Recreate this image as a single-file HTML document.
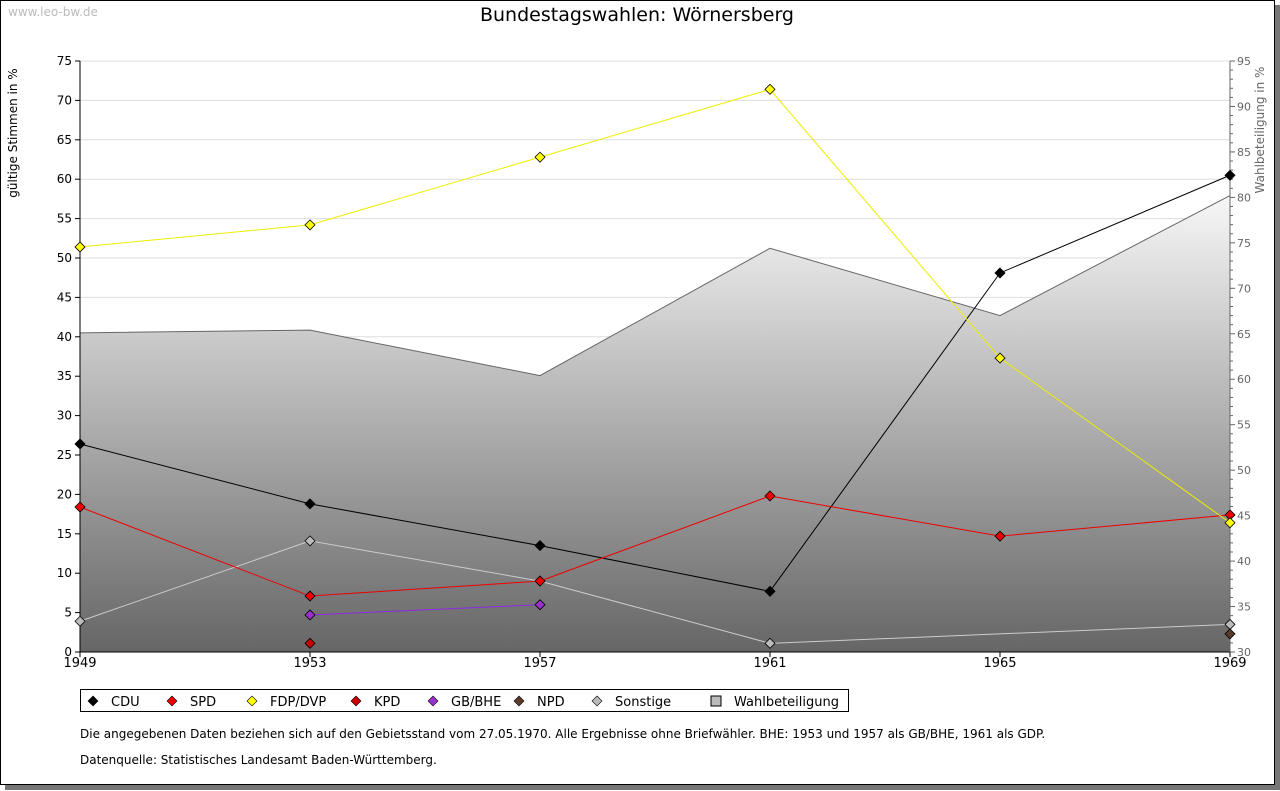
<!DOCTYPE html>
<html><head><meta charset="utf-8"><style>
body{margin:0;background:#fff;font-family:"DejaVu Sans","Liberation Sans",sans-serif;}
#frame{position:absolute;left:0;top:0;width:1273px;height:783px;border:1px solid #000;box-shadow:5px 5px 0 #777;background:#fff;}
</style></head><body>
<div id="frame"></div>
<svg id="chart" width="1280" height="791" style="position:absolute;left:0;top:0">
<defs><linearGradient id="g" gradientUnits="userSpaceOnUse" x1="0" y1="170" x2="0" y2="652"><stop offset="0" stop-color="#ffffff"/><stop offset="1" stop-color="#666666"/></linearGradient></defs>
<text x="8" y="16" font-size="12" fill="#bbb">www.leo-bw.de</text>
<text x="637" y="21" font-size="19" text-anchor="middle" fill="#000">Bundestagswahlen: Wörnersberg</text>
<text transform="translate(17,133) rotate(-90)" font-size="12" text-anchor="middle">gültige Stimmen in %</text>
<text transform="translate(1264,130) rotate(-90)" font-size="12" text-anchor="middle" fill="#666">Wahlbeteiligung in %</text>
<g id="plot"></g>
<g id="legend"></g>
<text x="80" y="738" font-size="12">Die angegebenen Daten beziehen sich auf den Gebietsstand vom 27.05.1970. Alle Ergebnisse ohne Briefwähler. BHE: 1953 und 1957 als GB/BHE, 1961 als GDP.</text>
<text x="80" y="764" font-size="12">Datenquelle: Statistisches Landesamt Baden-Württemberg.</text>
</svg>
<script>
const years=[1949,1953,1957,1961,1965,1969];
const yTicks=[0,5,10,15,20,25,30,35,40,45,50,55,60,65,70,75];
const y2Ticks=[30,35,40,45,50,55,60,65,70,75,80,85,90,95];
const cdu=[26.4,18.8,13.5,7.7,48.1,60.5];
const spd=[18.4,7.1,9.0,19.8,14.7,17.4];
const fdp=[51.4,54.2,62.8,71.4,37.3,16.4];
const kpd=[null,1.1,null,null,null,null];
const gbbhe=[null,4.7,6.0,null,null,null];
const npd=[null,null,null,null,null,2.3];
const sonstige=[3.9,14.1,9.0,1.1,null,3.5];
const turnout=[65.1,65.4,60.4,74.4,67.0,80.2];
const X0=80,X1=1230,Y0=652,Y1=61;
const xs=i=>X0+(X1-X0)*i/(years.length-1);
const ys=v=>Y0-(v/75)*(Y0-Y1);
const y2s=v=>Y0-((v-30)/65)*(Y0-Y1);
const NS="http://www.w3.org/2000/svg";
const plot=document.getElementById('plot');
function mk(t,a,p){const e=document.createElementNS(NS,t);for(const k in a)e.setAttribute(k,a[k]);(p||plot).appendChild(e);return e;}
yTicks.forEach(v=>{const y=ys(v);
 const l=mk('line',{x1:X0,x2:X1,y1:y,y2:y,stroke:'#ddd'});
 
 
 mk('line',{x1:X0-5,x2:X0,y1:y,y2:y,stroke:'#000'});
 const t=mk('text',{x:X0-8,y:y+4,'font-size':12,'text-anchor':'end'});t.textContent=v;
 
 });
let d='M'+xs(0)+','+Y0;turnout.forEach((v,i)=>d+=' L'+xs(i)+','+y2s(v));d+=' L'+xs(years.length-1)+','+Y0+'Z';
const area=mk('path',{d:d,fill:'url(#g)',stroke:'none'});


const tl=mk('polyline',{points:turnout.map((v,i)=>xs(i)+','+y2s(v)).join(' '),fill:'none',stroke:'#666'});


mk('line',{x1:X0,x2:X0,y1:Y1,y2:Y0,stroke:'#000'});
mk('line',{x1:X0,x2:X1,y1:Y0,y2:Y0,stroke:'#000'});
mk('line',{x1:X1,x2:X1,y1:Y1,y2:Y0,stroke:'#666'});
for(let v=30;v<=95;v++){const y=y2s(v);mk('line',{x1:X1,x2:X1+(v%5==0?5:3),y1:y,y2:y,stroke:'#666'});}
y2Ticks.forEach(v=>{const t=mk('text',{x:X1+7,y:y2s(v)+4,'font-size':11,fill:'#666'});t.textContent=v;
 
 });
years.forEach((yr,i)=>{mk('line',{x1:xs(i),x2:xs(i),y1:Y0,y2:Y0+5,stroke:'#000'});
 const t=mk('text',{x:xs(i),y:Y0+15,'font-size':13,'text-anchor':'middle'});t.textContent=yr;
 
 });
const series=[['cdu',cdu,'#000','#000'],['sonstige',sonstige,'#ccc','#bbb'],['gbbhe',gbbhe,'#8a2be2','#9932cc'],['spd',spd,'#e00','#e00'],['fdp',fdp,'#ee0','#ff0'],['kpd',kpd,'#c00','#c00'],['npd',npd,'#5a3a28','#5a3a28']];
series.forEach(([n,arr,lc,fc])=>{
 const pts=[];arr.forEach((v,i)=>{if(v!==null)pts.push(xs(i)+','+ys(v));});
 if(pts.length>1){const pl=mk('polyline',{points:pts.join(' '),fill:'none',stroke:lc});
  
  }
 arr.forEach((v,i)=>{if(v===null)return;const x=xs(i),y=ys(v);
  const m=mk('path',{d:`M${x},${y-5} L${x+5},${y} L${x},${y+5} L${x-5},${y}Z`,fill:fc,stroke:'#000','stroke-width':0.8});
  
  });
});
const lg=document.getElementById('legend');
mk('rect',{x:80.5,y:689.5,width:768,height:22,fill:'#fff',stroke:'#000'},lg);
const items=[['CDU','#000',93],['SPD','#e00',172],['FDP/DVP','#ff0',252],['KPD','#c00',356],['GB/BHE','#9932cc',433],['NPD','#5a3a28',519],['Sonstige','#bbb',597],['Wahlbeteiligung','sq',716]];
items.forEach(([t,c,x])=>{
 if(c==='sq'){const r=mk('rect',{x:x-5,y:696,width:10,height:10,fill:'#bbb',stroke:'#000'},lg);}
 else{const r=mk('path',{d:`M${x},${696} L${x+5},${701} L${x},${706} L${x-5},${701}Z`,fill:c,stroke:'#000','stroke-width':0.6},lg);}
 const tx=mk('text',{x:x+18,y:706,'font-size':13},lg);tx.textContent=t;
 
 
});
</script>
</body></html>
